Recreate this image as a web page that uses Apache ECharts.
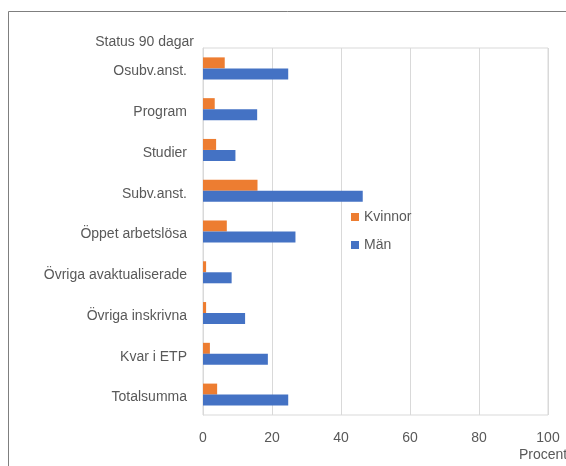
<!DOCTYPE html>
<html>
<head>
<meta charset="utf-8">
<script src="https://cdn.jsdelivr.net/npm/echarts@6/dist/echarts.min.js"></script>
<style>
  html, body { margin: 0; padding: 0; background: #ffffff; }
  #chart { width: 566px; height: 466px; }
</style>
</head>
<body>
<div id="chart"></div>
<script>
// Status after 90 days, share in percent, by sex
const categories = ['Osubv.anst.', 'Program', 'Studier', 'Subv.anst.', 'Öppet arbetslösa',
  'Övriga avaktualiserade', 'Övriga inskrivna', 'Kvar i ETP', 'Totalsumma'];
const kvinnor = [6.3, 3.4, 3.8, 15.8, 6.9, 0.9, 0.9, 2.0, 4.1];
const man = [24.7, 15.7, 9.4, 46.3, 26.8, 8.3, 12.2, 18.8, 24.7];
const xTicks = { min: 0, max: 100, interval: 20 };

const textColor = '#595959';
const gridColor = '#d9d9d9';
const font = 'Liberation Sans';

const chart = echarts.init(document.getElementById('chart'), null, { renderer: 'canvas' });
chart.setOption({
  animation: false,
  backgroundColor: '#ffffff',
  textStyle: { fontFamily: font },
  graphic: [{
    type: 'rect',
    left: 6, top: 9,
    shape: { x: 0.5, y: 0.5, width: 600, height: 500 },
    style: { fill: 'none', stroke: '#7f7f7f', lineWidth: 1 },
    silent: true
  }],
  grid: {
    left: 203, right: 18, top: 48, bottom: 51,
    outerBoundsMode: 'none',
    containLabel: false,
    show: true, borderColor: gridColor, borderWidth: 1
  },
  legend: {
    orient: 'vertical',
    left: 346, top: 205,
    itemWidth: 8, itemHeight: 8, itemGap: 14,
    icon: 'rect',
    data: ['Kvinnor', 'Män'],
    textStyle: { color: textColor, fontSize: 14, fontFamily: font }
  },
  xAxis: {
    type: 'value',
    min: xTicks.min, max: xTicks.max, interval: xTicks.interval,
    name: 'Procent',
    nameLocation: 'end',
    nameGap: 0,
    nameTextStyle: {
      color: textColor, fontSize: 14, fontFamily: font,
      align: 'center', verticalAlign: 'top', padding: [33, 10, 0, 0]
    },
    axisLine: { show: false },
    axisTick: { show: false },
    axisLabel: { color: textColor, fontSize: 14, margin: 16, fontFamily: font },
    splitLine: { show: true, lineStyle: { color: gridColor, width: 1 } }
  },
  yAxis: {
    type: 'category',
    data: categories,
    inverse: true,
    name: 'Status 90 dagar',
    nameLocation: 'start',
    nameGap: 6,
    nameTextStyle: {
      color: textColor, fontSize: 14, fontFamily: font,
      align: 'right', verticalAlign: 'middle', padding: [0, 9, 0, 0]
    },
    axisLine: { show: true, lineStyle: { color: gridColor, width: 1 } },
    axisTick: { show: false },
    axisLabel: {
      color: textColor, fontSize: 14, margin: 16, fontFamily: font,
      verticalAlign: 'top', padding: [-4, 0, 0, 0]
    }
  },
  series: [
    {
      name: 'Kvinnor', type: 'bar', data: kvinnor,
      itemStyle: { color: '#ED7D31' },
      barGap: '0%', barCategoryGap: '46%'
    },
    {
      name: 'Män', type: 'bar', data: man,
      itemStyle: { color: '#4472C4' },
      barGap: '0%', barCategoryGap: '46%'
    }
  ]
});
</script>
</body>
</html>
